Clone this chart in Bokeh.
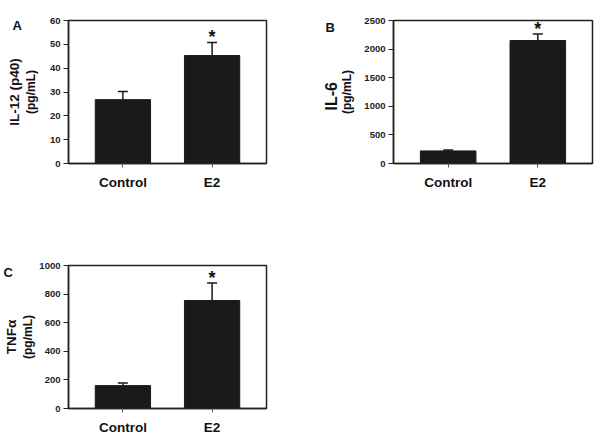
from bokeh.plotting import figure
from bokeh.models import (FactorRange, Range1d, Whisker, ColumnDataSource,
                          Title, FixedTicker, TeeHead)
from bokeh.layouts import column, row
from bokeh.embed import file_html
from bokeh.resources import INLINE
from bokeh.core.properties import value

# ---- data ----
categories = ["Control", "E2"]
il12_mean = [26.8, 45.3]
il12_sem = [3.4, 5.5]
il6_mean = [220, 2150]
il6_sem = [15, 115]
tnf_mean = [160, 755]
tnf_sem = [18, 122]
il12_ticks = [0, 10, 20, 30, 40, 50, 60]
il6_ticks = [0, 500, 1000, 1500, 2000, 2500]
tnf_ticks = [0, 200, 400, 600, 800, 1000]
significant = ["E2"]

FONT = "Liberation Sans"
INK = "#111111"


def make_panel(mean, sem, ticks, letter, ytitle, yunit, width, height,
               bl, br, bt, bb, letter_offset, letter_standoff,
               unit_standoff, title_standoff, title_align, title_offset,
               title_size, x_standoff):
    upper = [m + s for m, s in zip(mean, sem)]
    src = ColumnDataSource(dict(x=categories, mean=mean, upper=upper))
    p = figure(x_range=FactorRange(factors=categories, range_padding=0.11,
                                   range_padding_units="percent"),
               y_range=Range1d(ticks[0], ticks[-1]),
               width=width, height=height, output_backend="svg",
               toolbar_location=None, min_border_left=bl,
               min_border_right=br, min_border_top=bt, min_border_bottom=bb)
    p.background_fill_color = "white"
    p.border_fill_color = "white"
    p.outline_line_color = "#222222"
    p.outline_line_width = 1.5
    p.xgrid.visible = False
    p.ygrid.visible = False

    p.vbar(x="x", top="mean", width=0.62, source=src,
           fill_color="#1a1a1a", line_color="#1a1a1a")
    w = Whisker(base="x", upper="upper", lower="mean", source=src,
                dimension="height", line_color="#1a1a1a", line_width=1.5,
                upper_head=TeeHead(size=10, line_width=1.5,
                                   line_color="#1a1a1a"),
                lower_head=None)
    p.add_layout(w)

    sig_y = [u for c, u in zip(categories, upper) if c in significant]
    p.text(x=significant, y=sig_y, text=["*"] * len(significant),
           text_font=value(FONT), text_font_size="18px",
           text_font_style="bold", text_align="center",
           text_baseline="alphabetic", y_offset=-5, text_color=INK)

    ya = p.yaxis[0]
    ya.ticker = FixedTicker(ticks=ticks)
    ya.major_label_text_font = FONT
    ya.major_label_text_font_size = "9.5px"
    ya.major_label_text_font_style = "bold"
    ya.major_label_text_color = "#222222"
    ya.major_tick_out = 5
    ya.major_tick_in = 0
    ya.minor_tick_out = 0
    ya.minor_tick_in = 0
    ya.major_label_standoff = 3
    ya.axis_line_width = 1.5
    ya.axis_line_color = "#222222"
    ya.major_tick_line_color = "#222222"
    # units line as the axis label
    ya.axis_label = yunit
    ya.axis_label_standoff = unit_standoff
    ya.axis_label_text_font = FONT
    ya.axis_label_text_font_size = "12px"
    ya.axis_label_text_font_style = "bold"
    ya.axis_label_text_color = INK

    xa = p.xaxis[0]
    xa.major_label_text_font = FONT
    xa.major_label_text_font_size = "13.5px"
    xa.major_label_text_font_style = "bold"
    xa.major_label_text_color = INK
    xa.major_tick_out = 4
    xa.major_tick_in = 0
    xa.major_label_standoff = x_standoff
    xa.axis_line_width = 1.5
    xa.axis_line_color = "#222222"
    xa.major_tick_line_color = "#555555"

    # main y title, outside the units line
    p.add_layout(Title(text=ytitle, align=title_align,
                       standoff=title_standoff, offset=title_offset,
                       text_font=FONT, text_font_size=title_size,
                       text_font_style="bold", text_color=INK), "left")
    # panel letter
    p.add_layout(Title(text="\n" + letter, align="left",
                       offset=letter_offset, standoff=letter_standoff,
                       vertical_align="bottom",
                       text_font=FONT, text_font_size="13px",
                       text_font_style="bold", text_color=INK), "above")
    return p


pA = make_panel(il12_mean, il12_sem, il12_ticks, "A", "IL-12 (p40)",
                "(pg/mL)", 300, 240, 68, 34, 20, 77,
                -56, -24, 9, -2, "center", 0, "13.5px", 7)
pB = make_panel(il6_mean, il6_sem, il6_ticks, "B", "IL-6", "(pg/mL)",
                300, 240, 93, 8, 19, 77,
                -68, -28, 7, -4, "left", 53, "16px", 7)
pC = make_panel(tnf_mean, tnf_sem, tnf_ticks, "C", "TNFα", "(pg/mL)",
                300, 197, 68, 34, 25, 29,
                -65, -28, 1, -1, "center", 0, "13.5px", 7)

layout = column(row(pA, pB), pC)
open("out.html", "w").write(file_html(layout, INLINE))
